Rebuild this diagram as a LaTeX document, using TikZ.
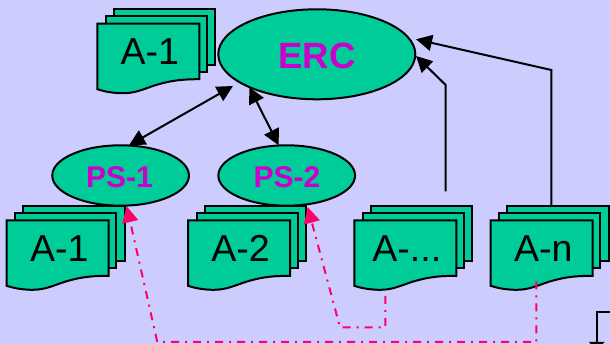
\documentclass[tikz,border=0pt]{standalone}
\usepackage{fontspec}
\setmainfont{Liberation Sans}
\usetikzlibrary{arrows.meta,shapes.geometric}
\definecolor{bgc}{HTML}{CCCCFF}
\definecolor{shapec}{HTML}{00CC99}
\definecolor{titlec}{HTML}{CC00CC}
\definecolor{pinkc}{HTML}{FF0066}
\tikzset{
  sheet/.style={draw=black,fill=shapec,line width=2pt,line join=miter},
  oval/.style={ellipse,draw=black,fill=shapec,line width=2pt,inner sep=0pt},
  doclabel/.style={text=black,anchor=base,inner sep=0pt,font=\fontsize{37.5}{37.5}\selectfont},
  ovallabel/.style={text=titlec,anchor=base,inner sep=0pt},
  link/.style={draw=black,line width=2pt,-{Triangle[length=16pt,width=16pt]}},
  bilink/.style={draw=black,line width=2pt,{Triangle[length=16pt,width=16pt]}-{Triangle[length=16pt,width=16pt]}},
  pinklink/.style={draw=pinkc,line width=2pt,dash pattern=on 8pt off 6pt on 2pt off 6pt,-{Triangle[length=16pt,width=16pt]}}
}
\newcommand{\docstack}[4]{%
  \begin{scope}[shift={(#2,#3)}]
    \draw[sheet] (16.5,-14.5) rectangle (118,41);
    \draw[sheet] (8.5,-7.5) rectangle (109.5,48);
    \draw[sheet] (0,0) -- (102,0) -- (102,55.5)
      .. controls (80,55.5) and (70,58) .. (58,61.5)
      .. controls (46,65.5) and (38,69.5) .. (26,69.5)
      .. controls (18,69.5) and (9,68.5) .. (0,65.5) -- cycle;
    \node[doclabel] (#1) at (52.5,41) {#4};
  \end{scope}}
\begin{document}
\begin{tikzpicture}[x=1pt,y=-1pt]
\useasboundingbox (0,0) rectangle (610,344);
\clip (0,0) rectangle (610,344);
\fill[bgc] (0,0) rectangle (610,344);

\docstack{docTop}{97.3}{23.7}{A-1}
\docstack{docOne}{6.7}{220.3}{A-1}
\docstack{docTwo}{188}{220.3}{A-2}
\docstack{docDots}{354.3}{220.3}{A-...}
\docstack{docN}{490.7}{220.3}{A-n}

\node[oval,minimum width=197pt,minimum height=90pt] (erc) at (316.8,54.3) {};
\node[oval,minimum width=136.7pt,minimum height=60.4pt] (psone) at (120.6,175.5) {};
\node[oval,minimum width=136.7pt,minimum height=60.4pt] (pstwo) at (286.7,175.5) {};
\node[ovallabel,font=\bfseries\fontsize{36.5}{36.5}\selectfont] (ercl) at (317,69) {ERC};
\node[ovallabel,font=\bfseries\fontsize{30}{30}\selectfont] (psonel) at (119.5,188) {PS-1};
\node[ovallabel,font=\bfseries\fontsize{30}{30}\selectfont] (pstwol) at (287,188) {PS-2};

\coordinate (ercA) at (233,86);
\coordinate (ercB) at (249.3,87.3);
\coordinate (ercC) at (416,56);
\coordinate (ercD) at (416,39.3);
\coordinate (psoneT) at (129,145.3);
\coordinate (pstwoT) at (278.7,145.3);
\coordinate (dotsTop) at (445.7,191.3);
\coordinate (nTop) at (551.3,206);
\coordinate (psoneB) at (126.7,206.3);
\coordinate (pstwoB) at (307.7,207);
\coordinate (dotsBot) at (385.3,296);
\coordinate (nBot) at (536.3,281.3);

\draw[bilink] (ercA) -- (psoneT);
\draw[bilink] (ercB) -- (pstwoT);
\draw[link] (dotsTop) -- (445.7,85) -- (ercC);
\draw[link] (nTop) -- (551.3,70) -- (ercD);
\draw[pinklink] (dotsBot) -- (385.3,327.3) -- (340,327.3) -- (pstwoB);
\draw[pinklink] (nBot) -- (536.3,342) -- (157.3,342) -- (psoneB);

\draw[draw=black,line width=2pt] (596.7,344) -- (596.7,312) -- (610,312);
\fill[black] (589,342) -- (604.6,342) -- (596.8,350) -- cycle;
\end{tikzpicture}
\end{document}
